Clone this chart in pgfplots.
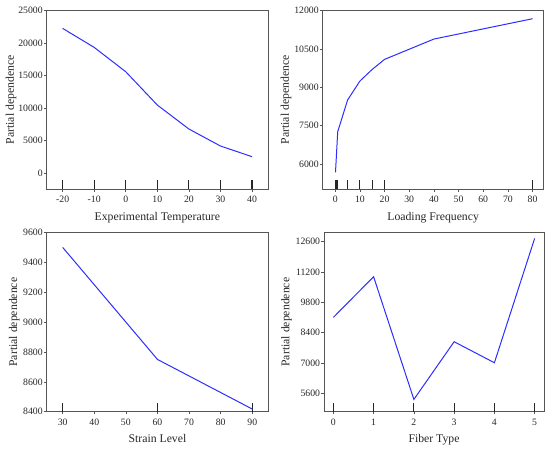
\documentclass[border=0pt]{standalone}
\usepackage{pgfplots}
\pgfplotsset{compat=1.18}
\usepackage{fontspec}
\setmainfont{Liberation Serif}
\definecolor{pdline}{RGB}{45,45,255}
\definecolor{axgray}{RGB}{85,85,85}
\pgfplotsset{
  pd/.style={
    scale only axis,
    axis line style={draw=axgray, line width=0.6pt},
    tick style={draw=axgray, line width=0.5pt},
    tick align=outside,
    major tick length=2pt,
    xtick pos=bottom, ytick pos=left,
    minor tick num=0,
    scaled ticks=false,
    /pgf/number format/assume math mode=true,
    /pgf/number format/1000 sep={},
    tick label style={font=\fontsize{7.3}{9}\selectfont, text=black!85},
    y tick label style={inner xsep=0.8pt},
    label style={font=\fontsize{8.8}{10}\selectfont, text=black!85},
    ylabel={Partial dependence},
    xlabel shift=-2pt,
    extra x tick labels={},
    extra x tick style={tick align=inside, major tick length=6.5pt, tick style={draw=black!85, line width=0.8pt}},
  },
  ylab/.style={ylabel style={at={([xshift=-#1]axis description cs:0,0.5)}, anchor=center}},
  pdl/.style={draw=pdline, line width=0.75pt, mark=none},
}
\begin{document}
\begin{tikzpicture}
\useasboundingbox (0,0) rectangle (412.5pt,337.5pt);
% Panel 1
\begin{axis}[pd, ylab=26.8pt, at={(35pt,195.75pt)}, anchor=south west,
  width=166pt, height=133.7pt,
  xmin=-25.06, xmax=45.06, ymin=-2460, ymax=25000,
  xtick={-20,-10,0,10,20,30,40},
  ytick={0,5000,10000,15000,20000,25000},
  extra x ticks={-20,-10,0,10,20,30,40},
  xlabel={Experimental Temperature}]
\addplot[pdl] coordinates {(-20,22280) (-10,19350) (0,15600) (10,10470) (20,6780) (30,4160) (40,2520)};
\end{axis}
% Panel 2
\begin{axis}[pd, ylab=27.5pt, at={(242pt,195.75pt)}, anchor=south west,
  width=165.75pt, height=133.7pt,
  xmin=-5.1, xmax=84.5, ymin=5022, ymax=12000,
  xtick={0,10,20,30,40,50,60,70,80},
  ytick={6000,7500,9000,10500,12000},
  extra x ticks={0.1,0.3,0.5,0.8,1,5,10,15,20,80},
  xlabel={Loading Frequency}]
\addplot[pdl] coordinates {(0.1,5674) (1,7265) (5,8504) (10,9248) (15,9704) (20,10096) (40,10891) (80,11687)};
\end{axis}
% Panel 3
\begin{axis}[pd, ylab=24.3pt, at={(35pt,28.7pt)}, anchor=south west,
  width=166.2pt, height=134.5pt,
  xmin=24.94, xmax=95.06, ymin=8400, ymax=9600,
  xtick={30,40,50,60,70,80,90},
  ytick={8400,8600,8800,9000,9200,9400,9600},
  extra x ticks={30,60,90},
  xlabel={Strain Level}]
\addplot[pdl] coordinates {(30,9500) (60,8750) (90,8418)};
\end{axis}
% Panel 4
\begin{axis}[pd, ylab=28pt, at={(243pt,28.7pt)}, anchor=south west,
  width=165pt, height=134.5pt,
  xmin=-0.232, xmax=5.232, ymin=4754, ymax=13031,
  xtick={0,1,2,3,4,5},
  ytick={5600,7000,8400,9800,11200,12600},
  extra x ticks={0,1,2,3,4,5},
  xlabel={Fiber Type}]
\addplot[pdl] coordinates {(0,9108) (1,10985) (2,5323) (3,7985) (4,7015) (5,12754)};
\end{axis}
\end{tikzpicture}
\end{document}
